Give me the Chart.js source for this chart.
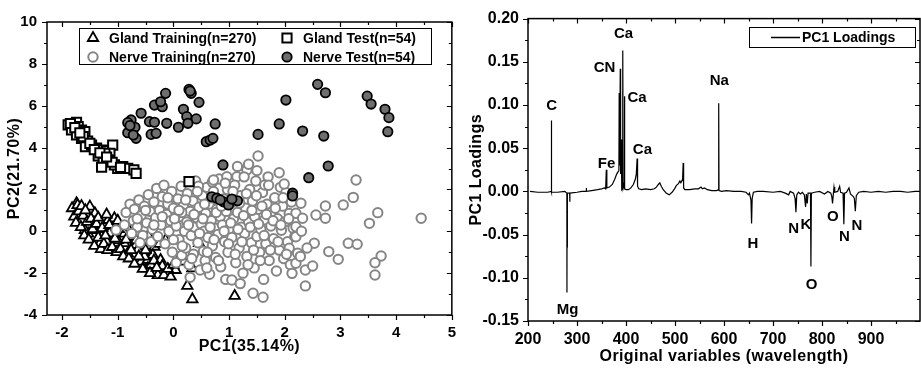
<!DOCTYPE html>
<html>
<head>
  <title>PCA scores and PC1 loadings</title>
  <meta charset="UTF-8">
  <script src="https://cdn.jsdelivr.net/npm/chart.js"></script>
  <style>
    body { margin: 0; background: #fff; width: 921px; height: 368px; overflow: hidden; }
    #scores { position: absolute; left: 0; top: 0; }
    #loadings { position: absolute; left: 465px; top: 0; }
  </style>
</head>
<body>
  <canvas id="scores" width="465" height="368"></canvas>
  <canvas id="loadings" width="456" height="368"></canvas>

  <script>
    // ---------- left panel: PCA scores ----------
    const seriesNames = ['Gland Training(n=270)', 'Gland Test(n=54)', 'Nerve Training(n=270)', 'Nerve Test(n=54)'];

    const glandTrainX = [-1.74,-1.68,-1.50,-1.65,-1.56,-1.41,-1.53,-1.38,-1.29,-1.17,-1.12,-1.20,-1.06,-0.88,-0.82,-0.73,-0.67,-0.52,-0.58,-0.46,
      -0.46,-0.34,-0.37,-0.23,-0.28,-0.17,-0.20,-0.14,-0.05,0.04,0.12,0.28,0.19,0.34,0.25,0.34,0.46,1.10,-1.41,-1.00,
      -0.80,-1.59,-1.32,-0.64,-0.52,-0.40,-0.88,-1.15,-1.06,-0.67,-1.82,-1.78,-1.75,-1.70,-1.66,-1.62,-1.60,-1.55,-1.52,-1.48,
      -1.45,-1.42,-1.38,-1.35,-1.30,-1.28,-1.25,-1.22,-1.18,-1.15,-1.10,-1.05,-1.02,-0.98,-0.95,-0.90,-0.85,-0.80,-0.76,-0.70,
      -0.62,-0.55,-0.50,-0.42,-0.35,-0.30,-0.10,0.00,-1.72,-1.65,-1.58,-1.35,-1.20,-1.00,-0.45,-0.25];
    const glandTrainY = [1.34,1.10,1.18,0.54,0.78,0.86,-0.11,0.06,-0.26,0.54,0.22,-0.48,-0.57,-0.57,-1.05,-0.26,-0.65,-0.42,-1.45,-1.37,
      -1.77,-0.74,-1.13,-1.37,-2.09,-2.09,-1.66,-0.42,-2.17,-1.85,-1.24,-1.05,-1.45,-1.77,-2.61,-3.25,-0.57,-3.09,0.30,-0.42,
      0.06,0.06,-0.57,-0.89,-1.21,-1.61,-0.11,-0.10,0.62,-0.42,1.10,0.70,0.40,0.95,0.20,0.75,-0.20,0.45,-0.40,0.60,
      0.10,-0.70,0.35,-0.30,-0.85,0.15,-0.60,-0.20,-0.90,0.30,-0.75,-0.35,-1.00,0.10,-0.85,-1.20,-0.40,-1.30,-0.90,-1.55,
      -1.20,-1.80,-0.90,-2.00,-1.40,-1.75,-1.80,-1.60,1.25,1.20,1.00,0.65,0.80,0.50,-0.20,-0.60];

    const glandTestX = [-1.89,-1.80,-1.74,-1.71,-1.83,-1.65,-1.59,-1.74,-1.65,-1.54,-1.58,-1.47,-1.38,-1.29,-1.20,-1.09,-1.14,-1.35,-1.26,-1.17,
      -1.29,-1.00,-0.91,-0.82,-0.71,-0.67,0.28,-1.06,-1.23,-1.62,-1.85,-1.77,-1.68,-1.50,-1.42,-1.32,-1.10,-0.95,-1.20];
    const glandTestY = [5.08,5.13,5.21,5.00,4.84,4.84,4.76,4.60,4.44,4.31,4.04,4.12,3.97,3.88,3.85,4.12,3.73,3.60,3.44,3.41,
      3.06,3.01,3.09,3.01,2.93,2.77,2.37,3.17,3.73,4.52,5.15,4.95,4.70,4.20,3.90,3.75,3.30,3.05,3.55];

    const nerveTrainX = [-0.85,-0.78,-0.72,-0.70,-0.65,-0.62,-0.58,-0.55,-0.52,-0.48,-0.45,-0.42,-0.40,-0.38,-0.35,-0.32,-0.30,-0.28,-0.25,-0.22,
      -0.20,-0.17,-0.15,-0.12,-0.10,-0.08,-0.05,-0.03,-0.02,0.00,-0.60,-0.88,-1.03,-0.75,
      0.05,0.05,0.08,0.10,0.12,0.14,0.15,0.18,0.20,0.22,0.24,0.25,0.28,0.30,0.32,0.35,0.36,0.38,0.40,0.42,
      0.44,0.46,0.48,0.50,0.52,0.54,0.55,0.57,0.58,0.60,0.62,0.64,0.65,0.68,0.70,0.72,0.74,0.76,0.78,0.80,
      0.82,0.84,0.85,0.88,0.90,0.92,0.94,0.95,0.97,0.98,1.00,0.30,0.60,0.15,0.45,0.70,0.72,0.96,1.14,1.32,
      1.02,1.05,1.05,1.08,1.10,1.12,1.15,1.18,1.20,1.22,1.25,1.27,1.28,1.30,1.32,1.35,1.37,1.40,1.42,1.45,
      1.46,1.48,1.50,1.52,1.55,1.57,1.60,1.62,1.64,1.66,1.68,1.70,1.72,1.75,1.78,1.80,1.82,1.85,1.87,1.90,
      1.92,1.94,1.96,1.98,2.00,2.02,2.05,2.08,2.10,2.12,2.15,2.18,1.43,1.61,1.20,1.50,1.90,1.15,1.35,1.52,1.64,1.99,
      2.29,2.20,2.32,2.20,2.20,2.08,2.23,2.20,2.13,2.37,2.37,2.50,2.53,2.73,2.56,2.73,2.79,2.96,3.05,3.14,
      3.23,3.30,3.52,3.67,3.73,3.62,3.62,4.45,3.28,2.30,2.40,2.28,
      0.02,0.10,0.16,0.22,0.27,0.33,0.37,0.43,0.47,0.53,0.56,0.61,0.66,0.69,0.73,0.77,0.81,0.86,0.91,0.93,
      0.99,1.03,1.07,1.11,1.16,1.19,1.23,1.26,1.31,1.34,1.38,1.41,1.44,1.49,1.53,1.56,1.59,1.63,1.67,1.71,
      1.74,1.79,1.83,1.88,1.93,1.97,2.03,2.07,-0.50,-0.35,-0.20,-0.10,-0.65,0.00];
    const nerveTrainY = [0.90,1.30,0.50,1.05,0.20,1.50,0.75,-0.20,1.20,0.40,1.75,0.95,-0.50,0.10,1.40,0.65,2.05,-0.25,1.00,0.30,
      1.65,2.20,-0.60,0.80,1.30,0.00,0.50,1.90,-1.00,1.10,-0.55,0.30,0.06,-0.10,
      0.25,-1.50,1.55,-0.40,0.70,2.15,-1.15,1.20,0.00,-0.80,0.45,1.80,-1.60,0.95,-0.20,1.45,-1.10,0.20,2.40,0.65,
      -0.55,1.15,-1.85,0.35,1.70,-0.95,0.00,-1.40,0.85,2.10,-0.30,1.30,-2.05,0.50,-0.70,1.90,0.15,-1.25,1.05,-0.15,
      2.50,0.70,-1.70,0.30,1.55,-0.50,-2.30,0.95,2.00,-1.00,0.10,-2.20,-1.75,0.90,2.15,2.35,2.45,2.61,2.61,2.93,
      1.30,-0.30,-2.33,0.60,2.20,-1.50,0.90,-0.80,1.70,0.20,-2.00,2.60,-0.10,1.10,-1.20,0.45,2.00,-0.55,1.45,-1.75,
      0.70,2.40,-0.25,1.05,-1.00,0.10,1.85,-2.30,0.55,-0.60,1.30,2.60,-1.40,0.25,0.95,-0.35,1.60,-1.90,0.60,-0.90,
      2.10,0.05,1.20,-1.30,0.45,1.85,-0.50,0.85,-1.60,1.40,0.15,-0.25,-2.96,-3.15,-2.50,2.90,2.80,3.10,3.20,3.60,2.21,2.26,
      1.34,0.86,0.62,0.22,-0.26,-0.81,-1.05,-1.53,-2.01,-1.85,-2.61,-1.66,-0.57,0.62,0.78,1.21,-0.97,-1.34,1.26,-0.57,
      1.62,-0.62,0.38,0.89,-1.18,-1.50,-2.09,0.62,2.45,0.00,-0.80,-1.20,
      0.60,1.00,-0.70,1.50,0.30,-1.30,0.80,1.90,-0.10,0.60,1.30,-1.00,0.20,1.60,-0.40,0.90,-1.40,1.20,0.00,2.30,
      -0.60,0.40,1.90,-1.10,0.10,1.35,-0.50,0.75,1.80,-1.60,0.20,1.00,-0.90,1.70,0.35,-1.40,1.20,-0.20,0.80,2.20,
      -0.90,0.50,1.10,-0.50,0.30,1.60,-1.10,0.60,1.00,0.30,0.70,1.60,0.60,-0.40];

    const nerveTestX = [0.28,0.32,-0.14,0.46,-0.34,-0.20,-0.23,0.18,-0.58,0.24,0.41,-0.76,-0.82,-0.43,-0.34,-0.12,0.09,0.26,0.75,-0.69,
      -0.82,-0.40,-0.31,-0.67,0.59,0.66,0.71,0.89,1.52,1.90,2.02,2.32,2.59,2.73,2.70,2.78,2.43,3.48,3.55,3.80,
      3.87,3.85,2.14,2.14,0.69,0.78,0.90,0.99,1.15,1.05,-0.78,0.30,-0.72,0.84];
    const nerveTestY = [6.78,6.59,6.59,6.16,6.03,5.95,6.19,5.83,5.64,5.48,5.37,5.32,5.19,5.24,5.21,5.16,4.97,5.16,5.13,4.97,
      4.71,4.63,4.68,4.44,4.28,4.36,4.44,3.17,4.63,5.13,6.27,4.79,7.02,6.62,4.55,3.12,2.56,6.46,6.08,5.83,
      5.43,4.76,1.82,1.69,1.65,1.58,1.41,1.26,1.46,1.54,5.05,6.70,4.60,1.50];

    const scoreXTicks = [-2, -1, 0, 1, 2, 3, 4, 5];
    const scoreYTicks = [-4, -2, 0, 2, 4, 6, 8, 10];

    // ---------- right panel: PC1 loadings spectrum ----------
    const wavelength = [204,220,240,247.5,247.8,248.1,260,275,279.3,279.5,279.8,280.2,280.5,285,285.3,285.6,300,310,318.6,319,
      319.4,330,342,350,356,358.5,359.8,360.9,366,372,377,381,383,385.5,386.1,386.6,387.5,388.3,389,390.5,
      391.3,392.5,393.4,394.3,396,396.8,397.6,400,405,410,415,419,421,422.7,423.6,426,432,440,450,458,
      462,466,469,472,476,482,488,494,499,503,507,510,512,515.5,516.7,517.6,520,530,540,548,
      553,556,560,566,575,585,588.6,589.2,589.8,595,605,620,635,645,650,652,655,656.3,657.5,660,
      668,680,700,715,725,732,735,742,745,746.8,748.5,752,756,760,764,766.5,768,769.9,771.5,776.5,
      777.4,778.3,785,795,805,812,818,820,821.5,823,824.5,826,832,836,838,843,844.6,846,850,855,
      858,864,866,868,870,875,885,900,915,930,945,960,975,990,998];
    const pc1Loading = [0.000,-0.001,-0.001,0.000,0.082,-0.001,-0.001,0.000,-0.002,-0.117,-0.003,-0.065,-0.002,-0.002,-0.012,-0.002,-0.001,0.000,0.000,0.004,
      0.000,0.001,0.002,0.003,0.004,0.003,0.025,0.004,0.005,0.008,0.014,0.020,0.022,0.024,0.114,0.030,0.040,0.142,0.020,0.060,
      0.002,0.003,0.163,0.004,0.008,0.110,0.003,0.002,0.002,0.004,0.008,0.014,0.020,0.038,0.006,0.003,0.002,0.003,0.002,0.003,
      0.005,0.008,0.010,0.006,0.002,-0.002,-0.004,-0.001,0.003,0.007,0.009,0.012,0.010,0.014,0.033,0.004,0.002,0.002,0.003,0.003,
      0.005,0.003,0.004,0.002,0.001,0.001,0.002,0.102,0.001,0.000,0.001,0.000,0.000,-0.001,-0.004,-0.002,-0.010,-0.037,-0.008,-0.001,
      0.000,0.000,-0.001,0.000,-0.002,-0.004,0.000,-0.002,-0.008,-0.024,-0.004,-0.001,-0.003,-0.001,-0.004,-0.018,-0.003,-0.014,-0.002,-0.002,
      -0.087,-0.002,-0.001,0.000,-0.003,0.000,-0.002,-0.006,-0.014,-0.004,0.005,-0.001,0.000,0.006,-0.001,-0.002,-0.038,-0.002,-0.001,0.004,
      -0.003,-0.006,-0.008,-0.023,-0.005,-0.001,0.000,-0.001,0.000,-0.001,0.000,0.000,-0.001,0.000,0.000];

    const loadXTicks = [200, 300, 400, 500, 600, 700, 800, 900];
    const loadYTicks = [-0.15, -0.10, -0.05, 0.00, 0.05, 0.10, 0.15, 0.20];

    const peakNames = ['C', 'CN', 'Ca', 'Ca', 'Fe', 'Ca', 'Na', 'Mg', 'H', 'N', 'K', 'O', 'O', 'N', 'N'];
    const peakLabelX = [248.3, 356.3, 394.9, 422.7, 360.4, 433.5, 590.5, 280.6, 658.9, 742, 767, 778.7, 822.3, 845.7, 871.5];
    const peakLabelY = [0.100, 0.144, 0.183, 0.109, 0.033, 0.049, 0.129, -0.136, -0.059, -0.042, -0.038, -0.107, -0.028, -0.052, -0.039];

    const FONT = '"Liberation Sans", Arial, sans-serif';
    const pts = (xs, ys) => xs.map((x, i) => ({ x: x, y: ys[i] }));

    // simple marker drawing used by the legend, same shapes as Chart.js points
    function drawMarker(ctx, style, x, y, r, fill, stroke, lw) {
      ctx.save();
      ctx.beginPath();
      if (style === 'triangle') {
        ctx.moveTo(x, y - r);
        ctx.lineTo(x + r * 0.866, y + r * 0.5);
        ctx.lineTo(x - r * 0.866, y + r * 0.5);
        ctx.closePath();
      } else if (style === 'rect') {
        const s = r / Math.SQRT2;
        ctx.rect(x - s, y - s, 2 * s, 2 * s);
      } else {
        ctx.arc(x, y, r, 0, Math.PI * 2);
      }
      ctx.fillStyle = fill;
      ctx.fill();
      ctx.lineWidth = lw;
      ctx.strokeStyle = stroke;
      ctx.stroke();
      ctx.restore();
    }

    // box around the plot, inward/outward ticks, minor ticks and axis titles
    const framePlugin = {
      id: 'frame',
      afterDatasetsDraw(chart, args, o) {
        const { ctx, chartArea: a } = chart;
        const xs = chart.scales.x, ys = chart.scales.y;
        ctx.save();
        ctx.strokeStyle = '#000';
        ctx.lineWidth = 1.5;
        ctx.strokeRect(a.left, a.top, a.right - a.left, a.bottom - a.top);
        ctx.lineWidth = 1.2;
        ctx.beginPath();
        const xTick = (v, len) => {
          const p = Math.round(xs.getPixelForValue(v)) + 0.5;
          ctx.moveTo(p, a.bottom); ctx.lineTo(p, a.bottom + len);
          ctx.moveTo(p, a.top); ctx.lineTo(p, a.top + len);
        };
        const yTick = (v, len) => {
          const p = Math.round(ys.getPixelForValue(v)) + 0.5;
          ctx.moveTo(a.left, p); ctx.lineTo(a.left - len, p);
          ctx.moveTo(a.right, p); ctx.lineTo(a.right - len, p);
        };
        o.xMajor.forEach(v => xTick(v, 5));
        o.yMajor.forEach(v => yTick(v, 5));
        const isMajor = (list, v, step) => list.some(m => Math.abs(m - v) < step / 10);
        for (let n = Math.ceil(xs.min / o.xStep); n * o.xStep <= xs.max + 1e-9; n++) {
          const v = n * o.xStep;
          if (!isMajor(o.xMajor, v, o.xStep) && v < xs.max - 1e-9) xTick(v, 3);
        }
        for (let n = Math.ceil(ys.min / o.yStep - 1e-9); n * o.yStep <= ys.max + 1e-9; n++) {
          const v = n * o.yStep;
          if (!isMajor(o.yMajor, v, o.yStep)) yTick(v, 3);
        }
        ctx.stroke();

        ctx.fillStyle = '#000';
        ctx.font = 'bold 16px ' + FONT;
        ctx.letterSpacing = o.spacing;
        ctx.textAlign = 'center';
        ctx.textBaseline = 'middle';
        ctx.fillText(o.xTitle, (a.left + a.right) / 2, o.xTitleY);
        ctx.translate(o.yTitleX, (a.top + a.bottom) / 2);
        ctx.rotate(-Math.PI / 2);
        ctx.fillText(o.yTitle, 0, 0);
        ctx.restore();
      }
    };

    // ----- scores chart -----
    const scoreStyles = [
      { pointStyle: 'triangle', radius: 6, fill: '#fff', stroke: '#000', lw: 1.8 },
      { pointStyle: 'rect', radius: 6.5, fill: '#fff', stroke: '#000', lw: 2 },
      { pointStyle: 'circle', radius: 4.7, fill: '#fff', stroke: '#858585', lw: 2 },
      { pointStyle: 'circle', radius: 4.7, fill: '#6e6e6e', stroke: '#000', lw: 1.8 }
    ];
    const scoreData = [pts(glandTrainX, glandTrainY), pts(glandTestX, glandTestY), pts(nerveTrainX, nerveTrainY), pts(nerveTestX, nerveTestY)];
    const drawOrder = [3, 1, 2, 0];

    const scoreLegend = {
      id: 'scoreLegend',
      afterDraw(chart) {
        const ctx = chart.ctx;
        ctx.save();
        ctx.letterSpacing = '0px';
        ctx.strokeStyle = '#000';
        ctx.lineWidth = 1;
        ctx.strokeRect(79.5, 28.5, 352, 36);
        const spots = [[93, 38], [287, 38], [93, 57], [287, 57]];
        ctx.font = 'bold 14px ' + FONT;
        ctx.fillStyle = '#000';
        ctx.textBaseline = 'middle';
        seriesNames.forEach((name, i) => {
          const s = scoreStyles[i];
          drawMarker(ctx, s.pointStyle, spots[i][0], spots[i][1], s.radius, s.fill, s.stroke, s.lw);
          ctx.fillText(name, spots[i][0] + 16, spots[i][1] + 1);
        });
        ctx.restore();
      }
    };

    new Chart(document.getElementById('scores'), {
      type: 'scatter',
      data: {
        datasets: seriesNames.map((name, i) => ({
          label: name,
          data: scoreData[i],
          pointStyle: scoreStyles[i].pointStyle,
          pointRadius: scoreStyles[i].radius,
          backgroundColor: scoreStyles[i].fill,
          borderColor: scoreStyles[i].stroke,
          borderWidth: scoreStyles[i].lw,
          order: drawOrder[i]
        }))
      },
      options: {
        responsive: false,
        animation: false,
        events: [],
        layout: { padding: { left: 0, top: 22, right: 12, bottom: 0 } },
        scales: {
          x: {
            type: 'linear', min: -2.27, max: 5,
            grid: { display: false, drawTicks: false }, border: { display: false },
            ticks: { autoSkip: false, maxRotation: 0, padding: 9, color: '#000', font: { family: FONT, size: 15, weight: 'bold' } },
            afterBuildTicks: s => { s.ticks = scoreXTicks.map(v => ({ value: v })); },
            afterFit: s => { s.height = 53; }
          },
          y: {
            type: 'linear', min: -4, max: 10,
            grid: { display: false, drawTicks: false }, border: { display: false },
            ticks: { autoSkip: false, padding: 10, color: '#000', font: { family: FONT, size: 15, weight: 'bold' } },
            afterBuildTicks: s => { s.ticks = scoreYTicks.map(v => ({ value: v })); },
            afterFit: s => { s.width = 47; }
          }
        },
        plugins: {
          legend: { display: false },
          tooltip: { enabled: false },
          frame: { xMajor: scoreXTicks, yMajor: scoreYTicks, xStep: 0.5, yStep: 1,
                   xTitle: 'PC1(35.14%)', yTitle: 'PC2(21.70%)', xTitleY: 347, yTitleX: 15, spacing: '0.5px' }
        }
      },
      plugins: [framePlugin, scoreLegend]
    });

    // ----- loadings chart -----
    const loadLabels = {
      id: 'loadLabels',
      afterDraw(chart) {
        const { ctx } = chart;
        const xs = chart.scales.x, ys = chart.scales.y;
        ctx.save();
        ctx.letterSpacing = '0px';
        ctx.fillStyle = '#000';
        ctx.font = 'bold 15px ' + FONT;
        ctx.textAlign = 'center';
        ctx.textBaseline = 'middle';
        peakNames.forEach((t, i) => {
          ctx.fillText(t, xs.getPixelForValue(peakLabelX[i]), ys.getPixelForValue(peakLabelY[i]) + 1);
        });
        // legend
        ctx.lineWidth = 1;
        ctx.strokeStyle = '#000';
        ctx.strokeRect(284.5, 27.5, 166, 20);
        ctx.lineWidth = 1.5;
        ctx.beginPath();
        ctx.moveTo(306, 37.5); ctx.lineTo(335, 37.5);
        ctx.stroke();
        ctx.font = 'bold 14px ' + FONT;
        ctx.textAlign = 'left';
        ctx.fillText('PC1 Loadings', 337, 38);
        ctx.restore();
      }
    };

    new Chart(document.getElementById('loadings'), {
      type: 'scatter',
      data: {
        datasets: [{
          label: 'PC1 Loadings',
          data: pts(wavelength, pc1Loading),
          showLine: true,
          pointRadius: 0,
          borderColor: '#000',
          borderWidth: 1.2
        }]
      },
      options: {
        responsive: false,
        animation: false,
        events: [],
        layout: { padding: { left: 0, top: 16, right: 1, bottom: 0 } },
        scales: {
          x: {
            type: 'linear', min: 200, max: 1000,
            grid: { display: false, drawTicks: false }, border: { display: false },
            ticks: { autoSkip: false, maxRotation: 0, padding: 9, color: '#000', font: { family: FONT, size: 16, weight: 'bold' } },
            afterBuildTicks: s => { s.ticks = loadXTicks.map(v => ({ value: v })); },
            afterFit: s => { s.height = 47; }
          },
          y: {
            type: 'linear', min: -0.15, max: 0.20,
            grid: { display: false, drawTicks: false }, border: { display: false },
            ticks: { autoSkip: false, padding: 9, color: '#000', font: { family: FONT, size: 16, weight: 'bold' },
                     callback: v => v.toFixed(2) },
            afterBuildTicks: s => { s.ticks = loadYTicks.map(v => ({ value: v })); },
            afterFit: s => { s.width = 63; }
          }
        },
        plugins: {
          legend: { display: false },
          tooltip: { enabled: false },
          frame: { xMajor: loadXTicks, yMajor: loadYTicks, xStep: 50, yStep: 0.025,
                   xTitle: 'Original variables (wavelength)', yTitle: 'PC1 Loadings', xTitleY: 357, yTitleX: 12, spacing: '0.4px' }
        }
      },
      plugins: [framePlugin, loadLabels]
    });
  </script>
</body>
</html>
